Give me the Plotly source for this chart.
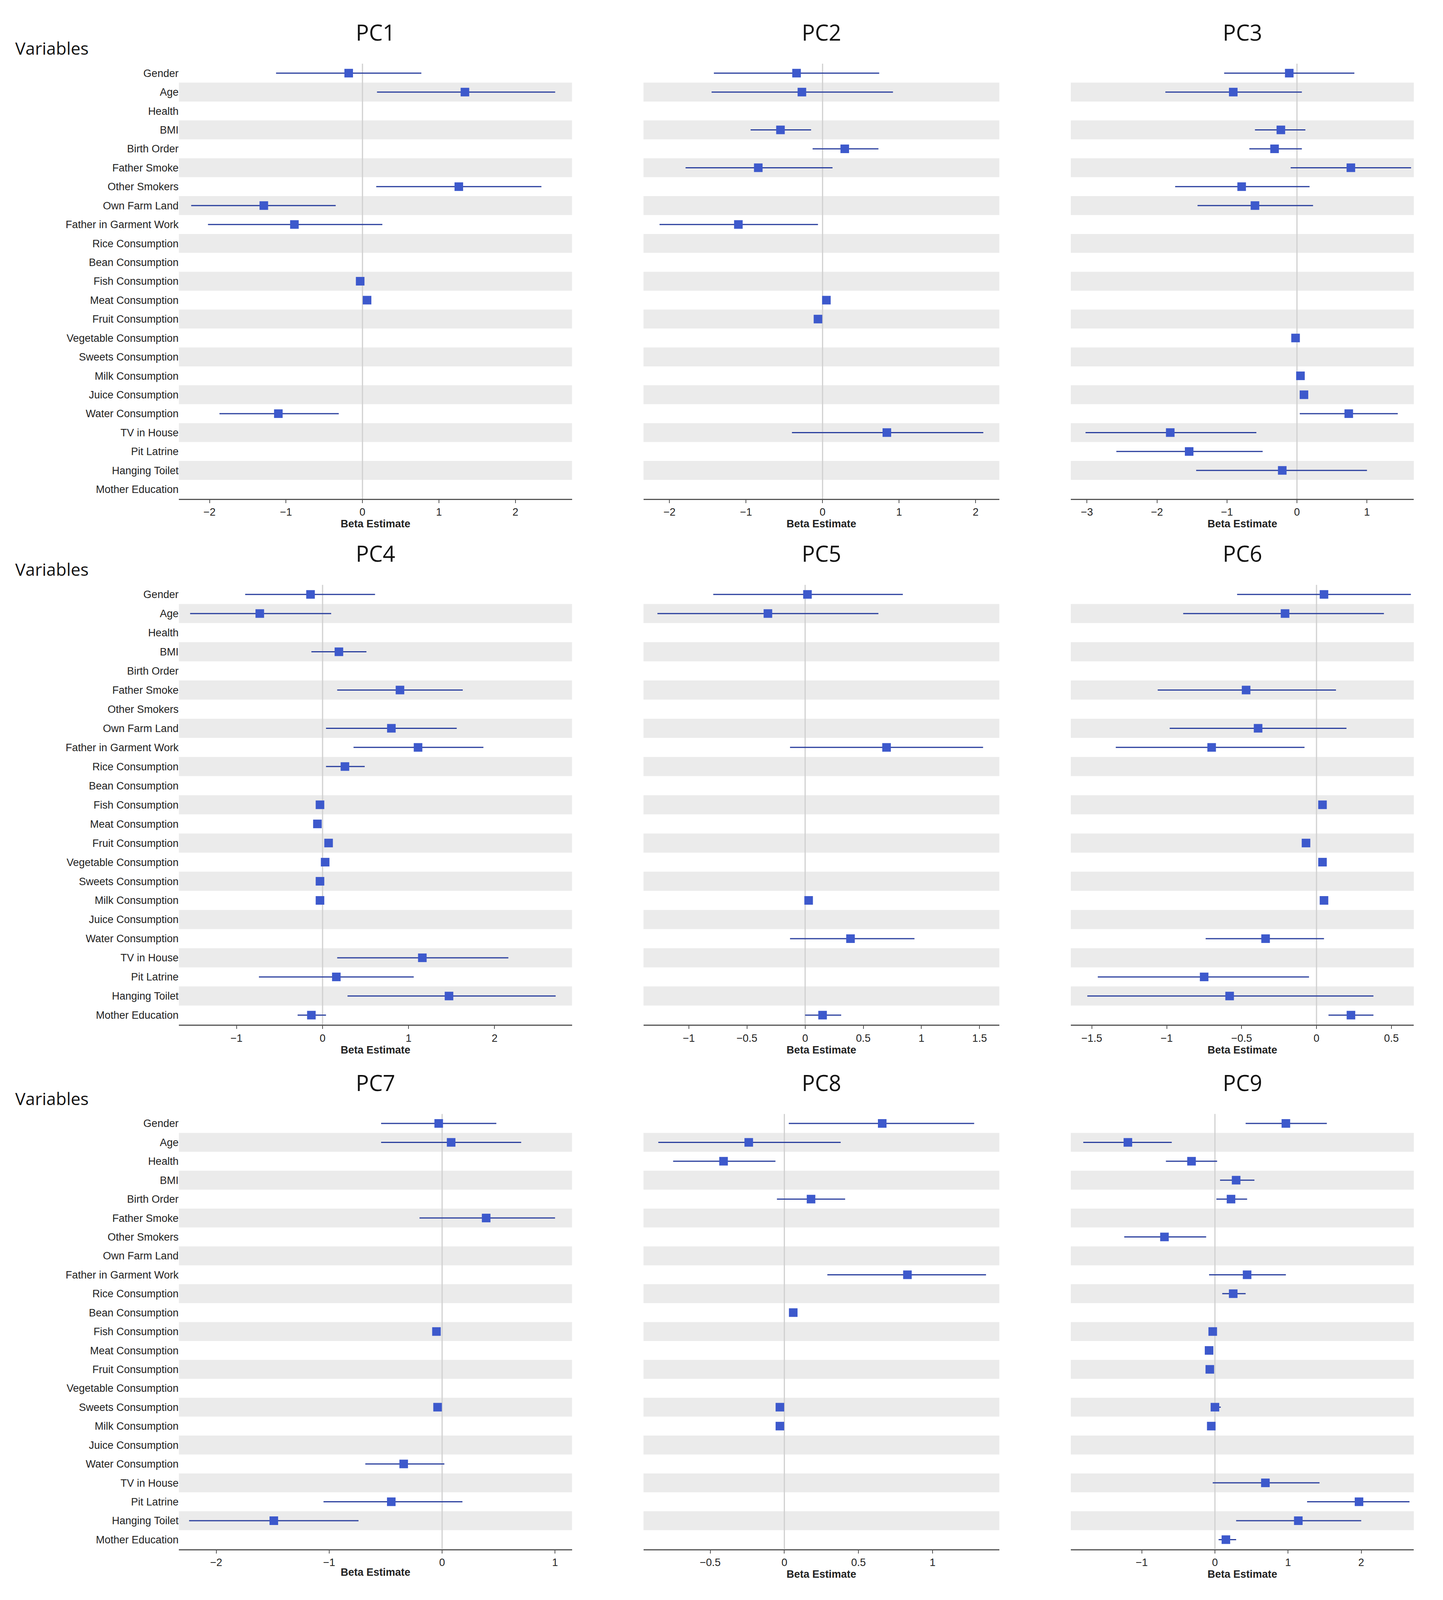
import plotly.graph_objects as go

variables = ["Gender","Age","Health","BMI","Birth Order","Father Smoke","Other Smokers","Own Farm Land",
             "Father in Garment Work","Rice Consumption","Bean Consumption","Fish Consumption","Meat Consumption",
             "Fruit Consumption","Vegetable Consumption","Sweets Consumption","Milk Consumption","Juice Consumption",
             "Water Consumption","TV in House","Pit Latrine","Hanging Toilet","Mother Education"]

# (estimate, lower, upper)
pc1 = {"Gender":(-0.18,-1.13,0.77),"Age":(1.34,0.19,2.52),"Other Smokers":(1.26,0.18,2.34),
       "Own Farm Land":(-1.29,-2.24,-0.35),"Father in Garment Work":(-0.89,-2.02,0.26),
       "Fish Consumption":(-0.03,-0.07,0.02),"Meat Consumption":(0.06,0.02,0.1),"Water Consumption":(-1.10,-1.87,-0.31)}
pc2 = {"Gender":(-0.34,-1.42,0.74),"Age":(-0.27,-1.45,0.92),"BMI":(-0.55,-0.94,-0.15),"Birth Order":(0.29,-0.13,0.73),
       "Father Smoke":(-0.84,-1.79,0.13),"Father in Garment Work":(-1.10,-2.13,-0.06),
       "Meat Consumption":(0.05,0.01,0.09),"Fruit Consumption":(-0.06,-0.1,-0.02),"TV in House":(0.84,-0.40,2.10)}
pc3 = {"Gender":(-0.11,-1.04,0.82),"Age":(-0.91,-1.88,0.07),"BMI":(-0.23,-0.6,0.12),"Birth Order":(-0.32,-0.68,0.07),
       "Father Smoke":(0.77,-0.09,1.63),"Other Smokers":(-0.79,-1.74,0.18),"Own Farm Land":(-0.6,-1.42,0.23),
       "Vegetable Consumption":(-0.02,-0.07,0.03),"Milk Consumption":(0.05,0.0,0.1),"Juice Consumption":(0.1,0.05,0.15),
       "Water Consumption":(0.74,0.04,1.44),"TV in House":(-1.81,-3.02,-0.58),"Pit Latrine":(-1.54,-2.58,-0.49),
       "Hanging Toilet":(-0.21,-1.44,1.0)}
pc4 = {"Gender":(-0.14,-0.9,0.61),"Age":(-0.73,-1.54,0.1),"BMI":(0.19,-0.13,0.51),"Father Smoke":(0.9,0.17,1.63),
       "Own Farm Land":(0.8,0.04,1.56),"Father in Garment Work":(1.11,0.36,1.87),"Rice Consumption":(0.26,0.04,0.49),
       "Fish Consumption":(-0.03,-0.07,0.01),"Meat Consumption":(-0.06,-0.1,-0.02),"Fruit Consumption":(0.07,0.03,0.11),
       "Vegetable Consumption":(0.03,-0.01,0.07),"Sweets Consumption":(-0.03,-0.07,0.01),"Milk Consumption":(-0.03,-0.07,0.01),
       "TV in House":(1.16,0.17,2.16),"Pit Latrine":(0.16,-0.74,1.06),"Hanging Toilet":(1.47,0.29,2.71),
       "Mother Education":(-0.13,-0.29,0.04)}
pc5 = {"Gender":(0.02,-0.79,0.84),"Age":(-0.32,-1.27,0.63),"Father in Garment Work":(0.7,-0.13,1.53),
       "Milk Consumption":(0.03,0.0,0.06),"Water Consumption":(0.39,-0.13,0.94),"Mother Education":(0.15,0.0,0.31)}
pc6 = {"Gender":(0.05,-0.53,0.63),"Age":(-0.21,-0.89,0.45),"Father Smoke":(-0.47,-1.06,0.13),
       "Own Farm Land":(-0.39,-0.98,0.2),"Father in Garment Work":(-0.7,-1.34,-0.08),"Fish Consumption":(0.04,0.02,0.06),
       "Fruit Consumption":(-0.07,-0.09,-0.05),"Vegetable Consumption":(0.04,0.02,0.06),"Milk Consumption":(0.05,0.03,0.07),
       "Water Consumption":(-0.34,-0.74,0.05),"Pit Latrine":(-0.75,-1.46,-0.05),"Hanging Toilet":(-0.58,-1.53,0.38),
       "Mother Education":(0.23,0.08,0.38)}
pc7 = {"Gender":(-0.03,-0.54,0.48),"Age":(0.08,-0.54,0.7),"Father Smoke":(0.39,-0.2,1.0),
       "Fish Consumption":(-0.05,-0.08,-0.02),"Sweets Consumption":(-0.04,-0.07,-0.01),"Water Consumption":(-0.34,-0.68,0.02),
       "Pit Latrine":(-0.45,-1.05,0.18),"Hanging Toilet":(-1.49,-2.24,-0.74)}
pc8 = {"Gender":(0.66,0.03,1.28),"Age":(-0.24,-0.85,0.38),"Health":(-0.41,-0.75,-0.06),"Birth Order":(0.18,-0.05,0.41),
       "Father in Garment Work":(0.83,0.29,1.36),"Bean Consumption":(0.06,0.04,0.08),
       "Sweets Consumption":(-0.03,-0.05,-0.01),"Milk Consumption":(-0.03,-0.05,-0.01)}
pc9 = {"Gender":(0.97,0.42,1.53),"Age":(-1.19,-1.8,-0.59),"Health":(-0.32,-0.67,0.03),"BMI":(0.29,0.07,0.54),
       "Birth Order":(0.22,0.02,0.44),"Other Smokers":(-0.69,-1.24,-0.12),"Father in Garment Work":(0.44,-0.08,0.97),
       "Rice Consumption":(0.25,0.1,0.42),"Fish Consumption":(-0.03,-0.06,0.0),"Meat Consumption":(-0.08,-0.11,-0.05),
       "Fruit Consumption":(-0.07,-0.1,-0.04),"Sweets Consumption":(0.0,-0.05,0.08),"Milk Consumption":(-0.05,-0.08,-0.02),
       "TV in House":(0.69,-0.03,1.43),"Pit Latrine":(1.97,1.26,2.66),"Hanging Toilet":(1.14,0.29,2.0),
       "Mother Education":(0.15,0.05,0.29)}

pcs = [pc1,pc2,pc3,pc4,pc5,pc6,pc7,pc8,pc9]
titles = ["PC1","PC2","PC3","PC4","PC5","PC6","PC7","PC8","PC9"]
xranges = [(-2.4,2.74),(-2.34,2.31),(-3.23,1.67),(-1.67,2.9),(-1.39,1.67),(-1.64,0.65),(-2.33,1.15),(-0.95,1.45),(-1.97,2.72)]
xticks = [[-2,-1,0,1,2],[-2,-1,0,1,2],[-3,-2,-1,0,1],[-1,0,1,2],[-1,-0.5,0,0.5,1,1.5],[-1.5,-1,-0.5,0,0.5],
          [-2,-1,0,1],[-0.5,0,0.5,1],[-1,0,1,2]]

xdoms = [(0.123,0.398),(0.448,0.697),(0.747,0.987)]
ydoms = [(0.689,0.962),(0.359,0.635),(0.030,0.303)]

fig = go.Figure()
shapes = []
annotations = []
n = len(variables)
for k, pc in enumerate(pcs):
    r, c = divmod(k, 3)
    ax = "" if k == 0 else str(k+1)
    ys, xs, ep, em = [], [], [], []
    for i, v in enumerate(variables):
        if v in pc:
            e, lo, hi = pc[v]
            ys.append(i); xs.append(e); ep.append(hi-e); em.append(e-lo)
    fig.add_trace(go.Scatter(x=xs, y=ys, mode="markers", xaxis="x"+ax, yaxis="y"+ax, showlegend=False,
                             marker=dict(symbol="square", size=22, color="#3d59cc"),
                             error_x=dict(type="data", array=ep, arrayminus=em, width=0, thickness=3, color="#2a3f9e")))
    fig.layout["xaxis"+ax] = dict(domain=xdoms[c], anchor="y"+ax, range=list(xranges[k]), tickvals=xticks[k],
                                  showgrid=False, zeroline=False, showline=True, linecolor="#555", linewidth=3,
                                  ticks="outside", ticklen=8, tickwidth=2, tickcolor="#555",
                                  tickfont=dict(family="Liberation Sans", size=27, color="#222"),
                                  title=dict(text="<b>Beta Estimate</b>", font=dict(family="Liberation Sans", size=27, color="#222"), standoff=2))
    fig.layout["yaxis"+ax] = dict(domain=ydoms[r], anchor="x"+ax, range=[n-0.5,-0.5], showgrid=False, zeroline=False,
                                  tickvals=list(range(n)), ticktext=variables if c == 0 else None,
                                  showticklabels=(c == 0), ticks="",
                                  tickfont=dict(family="Liberation Sans", size=27, color="#222"))
    for i in range(1, n, 2):
        shapes.append(dict(type="rect", xref="x"+ax+" domain", yref="y"+ax, x0=0, x1=1, y0=i-0.5, y1=i+0.5,
                           fillcolor="#ebebeb", line=dict(width=0), layer="below"))
    shapes.append(dict(type="line", xref="x"+ax, yref="y"+ax+" domain", x0=0, x1=0, y0=0, y1=1,
                       line=dict(color="#d0d0d0", width=3), layer="below"))
    annotations.append(dict(text=titles[k], xref="paper", yref="paper", x=sum(xdoms[c])/2, y=ydoms[r][1]+0.01,
                            xanchor="center", yanchor="bottom", showarrow=False,
                            font=dict(family="Open Sans", size=56, color="#111")))
    if c == 0:
        annotations.append(dict(text="Variables", xref="paper", yref="paper", x=0.008, y=ydoms[r][1]+0.002,
                                xanchor="left", yanchor="bottom", showarrow=False,
                                font=dict(family="Open Sans", size=44, color="#111")))

fig.update_layout(width=3660, height=4080, plot_bgcolor="white", paper_bgcolor="white",
                  margin=dict(l=0, r=0, t=0, b=0), shapes=shapes, annotations=annotations)
fig.write_html("out.html")
